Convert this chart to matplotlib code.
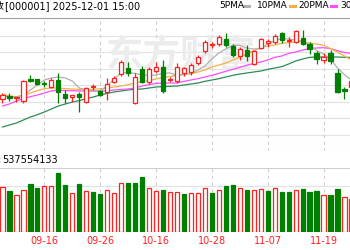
import numpy as np
import matplotlib
matplotlib.use("Agg")
from matplotlib import pyplot as plt

plt.rcParams['font.family'] = ['DejaVu Sans', 'Noto Sans CJK SC']

# daily candles, index points (last one is cut by the right edge)
opens = [3833, 3842, 3835, 3827, 3892, 3892, 3880, 3870, 3890, 3848,
         3839, 3848, 3824, 3868, 3857, 3854, 3884, 3908, 3926, 3821,
         3924, 3884, 3916, 3929, 3890, 3887, 3911, 3914, 3940, 3978,
         3994, 3998, 4013, 3993, 3963, 3980, 3937, 3986, 4002, 4005,
         4030, 4007, 4004, 4015, 3997, 3972, 3950, 3970, 3910, 3864, 3869]
closes = [3845, 3835, 3839, 3887, 3886, 3877, 3877, 3890, 3854, 3837,
          3844, 3840, 3867, 3872, 3845, 3878, 3897, 3944, 3911, 3900,
          3885, 3922, 3928, 3857, 3893, 3929, 3925, 3936, 3960, 4005,
          3998, 4020, 3994, 3965, 3983, 3963, 3977, 4012, 4007, 4023,
          4010, 4010, 4036, 3998, 3982, 3952, 3958, 3946, 3854, 3856, 3887]
highs = [3851, 3851, 3840, 3890, 3904, 3893, 3887, 3897, 3912, 3860,
         3845, 3855, 3869, 3879, 3860, 3896, 3902, 3951, 3944, 3911,
         3933, 3929, 3943, 3950, 3899, 3941, 3930, 3942, 3965, 4010,
         4005, 4025, 4032, 3998, 3988, 3995, 3980, 4016, 4014, 4028,
         4035, 4020, 4040, 4041, 4005, 3976, 3970, 3980, 3922, 3870, 3890]
lows = [3821, 3827, 3824, 3821, 3883, 3875, 3869, 3865, 3822, 3822,
        3824, 3795, 3821, 3860, 3842, 3830, 3881, 3902, 3902, 3818,
        3880, 3878, 3910, 3851, 3884, 3881, 3902, 3905, 3936, 3972,
        3986, 3992, 3990, 3960, 3950, 3947, 3935, 3982, 3990, 3998,
        4001, 3990, 4001, 3995, 3967, 3938, 3940, 3938, 3850, 3834, 3866]

ma5 = [3842, 3839, 3839, 3845, 3860, 3875, 3890, 3896, 3899, 3896,
       3887, 3866, 3860, 3856, 3857, 3872, 3893, 3911, 3912, 3910,
       3905, 3904, 3905, 3910, 3911, 3905, 3906, 3910, 3920, 3932,
       3953, 3971, 3983, 3994, 3994, 3986, 3983, 3984, 3998, 4008,
       4014, 4013, 4010, 4006, 3995, 3978, 3968, 3953, 3926, 3906, 3890]
ma10 = [3848, 3842, 3840, 3844, 3851, 3858, 3864, 3866, 3866, 3864,
        3863, 3862, 3860, 3862, 3864, 3866, 3869, 3872, 3876, 3881,
        3886, 3888, 3893, 3898, 3900, 3905, 3906, 3908, 3914, 3920,
        3929, 3935, 3941, 3950, 3958, 3968, 3978, 3988, 3992, 3995,
        4000, 4002, 4005, 4004, 4001, 3998, 3994, 3984, 3974, 3962, 3950]
ma20 = [3812, 3818, 3827, 3834, 3840, 3845, 3851, 3857, 3860, 3858,
        3858, 3857, 3857, 3857, 3857, 3858, 3860, 3862, 3863, 3866,
        3872, 3876, 3880, 3881, 3881, 3881, 3886, 3890, 3894, 3899,
        3904, 3910, 3916, 3922, 3928, 3934, 3940, 3944, 3950, 3958,
        3962, 3970, 3974, 3980, 3984, 3986, 3987, 3984, 3978, 3972, 3970]
ma30 = [3749, 3755, 3761, 3770, 3779, 3786, 3794, 3803, 3812, 3818,
        3824, 3828, 3834, 3839, 3845, 3850, 3854, 3857, 3860, 3862,
        3863, 3866, 3869, 3870, 3871, 3872, 3875, 3878, 3881, 3886,
        3890, 3894, 3899, 3904, 3908, 3911, 3914, 3917, 3922, 3926,
        3930, 3938, 3947, 3953, 3958, 3959, 3959, 3959, 3959, 3958, 3958]

# volume, 1e8 shares; 1 = red bar, 0 = green bar
volume = [4.47, 4.10, 3.70, 4.20, 4.77, 4.37, 4.60, 4.60, 5.93, 4.70,
          3.93, 4.80, 4.10, 4.00, 3.77, 4.20, 3.93, 4.87, 4.93, 4.87,
          5.47, 4.40, 4.10, 4.20, 3.97, 4.03, 3.77, 3.87, 3.93, 4.37,
          3.93, 4.20, 4.60, 4.70, 4.37, 4.20, 4.20, 4.27, 4.13, 4.37,
          4.03, 4.03, 4.20, 4.27, 4.03, 4.10, 3.70, 3.67, 4.30, 3.47, 3.27]
vol_up = [1, 0, 1, 1, 0, 0, 1, 1, 0, 0, 1, 0, 1, 0, 0, 1, 1, 1, 0, 0,
          0, 1, 1, 0, 1, 1, 0, 1, 1, 1, 0, 1, 0, 0, 1, 0, 1, 1, 0, 1,
          0, 0, 1, 0, 0, 0, 1, 0, 0, 1, 1]

tick_pos = [6, 14, 22, 30, 38, 46]
tick_labels = ['09-16', '09-26', '10-16', '10-28', '11-07', '11-19']

RED = '#ff2020'
GREEN = '#008000'
W, H = 350, 250

o = np.array(opens, float)
c = np.array(closes, float)
hi = np.array(highs, float)
lo = np.array(lows, float)
n = len(o)
x = np.arange(n)
up = c >= o

fig = plt.figure(figsize=(3.5, 2.5), dpi=100)

def fx(px):
    return px / W

def fy(py):
    return 1 - py / H

xlim = (-0.358, 49.79)

# price panel
ax = fig.add_axes([0, fy(151), 1, (151 - 19) / H])
ax.set_xlim(*xlim)
ax.set_ylim(3677, 4073)
for s in ax.spines.values():
    s.set_visible(False)
ax.set_xticks([])
ax.set_yticks([])
for yv in np.linspace(3677, 4073, 9)[:-1]:
    ax.axhline(yv, color='#e2e2e2', lw=0.8, zorder=0)
for t in tick_pos:
    ax.axvline(t, color='#d0d0d0', lw=0.8, ls=(0, (3, 3)), zorder=0)

ax.text(25.5, 3962, '东方财富', ha='center', va='center', fontsize=27,
        fontweight='bold', color='#ececec', family=['Noto Sans CJK SC'],
        zorder=0.5)

ax.plot(x, ma30, color='#2e8b57', lw=0.9, zorder=1)
ax.plot(x, ma20, color='#ff4cff', lw=0.9, zorder=1)
ax.plot(x, ma10, color='#f5b041', lw=0.9, zorder=1)
ax.plot(x, ma5, color='#b0b0b0', lw=0.9, zorder=1)

col = np.where(up, RED, GREEN)
ax.vlines(x, lo, hi, colors=col, lw=0.9, zorder=2)
bottom = np.minimum(o, c)
height = np.maximum(np.abs(c - o), 0.8)
ax.bar(x, height, bottom=bottom, width=0.6,
       color=np.where(up, 'white', GREEN), edgecolor=col, lw=0.9, zorder=3)

# volume panel
vax = fig.add_axes([0, fy(232), 1, (232 - 168) / H])
vax.set_xlim(*xlim)
vax.set_ylim(0, 6.4)
for s in vax.spines.values():
    s.set_visible(False)
vax.axhline(6.4, color='#cfcfcf', lw=0.8, zorder=0)
vax.axhline(4.6, color='#e2e2e2', lw=0.8, zorder=0)
for t in tick_pos:
    vax.axvline(t, color='#d0d0d0', lw=0.8, ls=(0, (3, 3)), zorder=0)
vu = np.array(vol_up, bool)
vax.bar(x, volume, width=0.6, color=np.where(vu, 'white', GREEN),
        edgecolor=np.where(vu, RED, GREEN), lw=0.9, zorder=3)
vax.set_yticks([])
vax.set_xticks(tick_pos)
vax.set_xticklabels(tick_labels)
vax.tick_params(axis='x', length=0, pad=3, labelsize=7, labelcolor=RED)

# header texts
fig.add_artist(plt.Line2D([0, 1], [fy(18), fy(18)], color='#a0a0a0', lw=0.8))
fig.text(fx(5), fy(6), '上证指数', ha='right', va='center', fontsize=7,
         family=['Noto Sans CJK SC'])
fig.text(fx(5), fy(6), '[000001] 2025-12-01 15:00', ha='left', va='center',
         fontsize=7)

leg = [(219, '5PMA', '#b0b0b0', 244), (257, '10PMA', '#f5b041', 290),
       (298, '20PMA', '#ff4cff', 331), (340, '30PMA', '#2e8b57', 373)]
for tx, lab, lc, lx in leg:
    fig.text(fx(tx), fy(6), lab, ha='left', va='center', fontsize=6.5)
    fig.add_artist(plt.Line2D([fx(lx), fx(lx + 5)], [fy(6), fy(6)],
                              color=lc, lw=2.2))

fig.text(fx(2), fy(160), '成交量:', ha='right', va='center', fontsize=7,
         family=['Noto Sans CJK SC', 'DejaVu Sans'])
fig.text(fx(2), fy(160), '537554133', ha='left', va='center', fontsize=7)

fig.savefig('out.png', dpi=100)
